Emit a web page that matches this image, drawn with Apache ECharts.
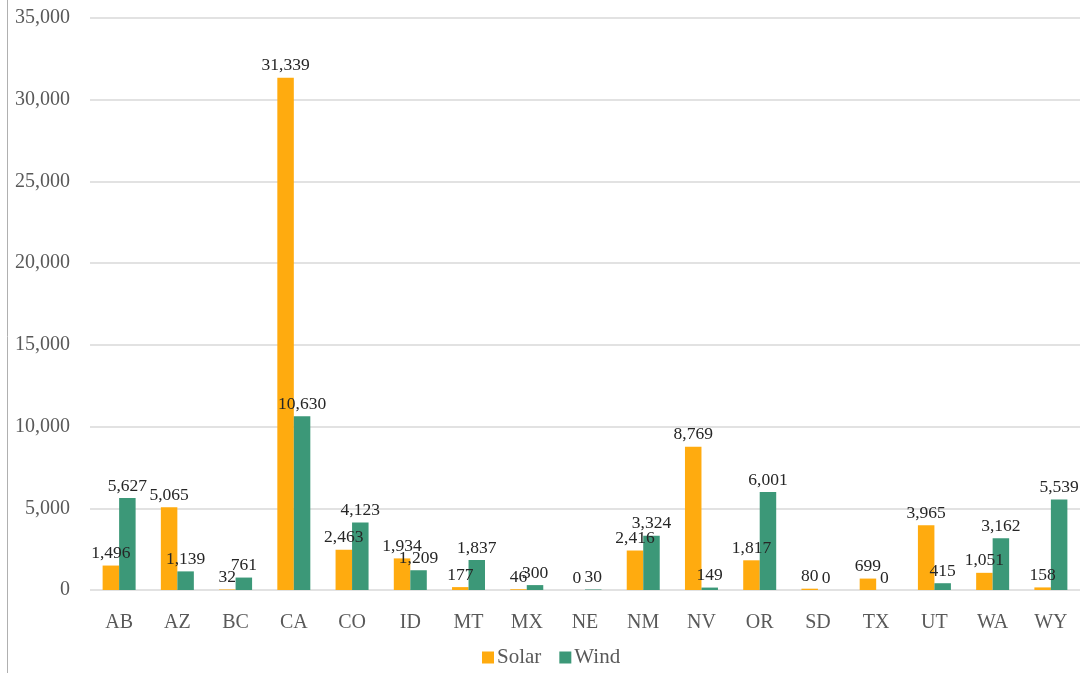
<!DOCTYPE html>
<html>
<head>
<meta charset="utf-8">
<script src="https://cdn.jsdelivr.net/npm/echarts@6/dist/echarts.min.js"></script>
<style>
  html, body { margin: 0; padding: 0; background: #fff; }
  #chart { width: 1084px; height: 673px; }
</style>
</head>
<body>
<div id="chart"></div>
<script>
const categories = ["AB", "AZ", "BC", "CA", "CO", "ID", "MT", "MX", "NE", "NM", "NV", "OR", "SD", "TX", "UT", "WA", "WY"];
const solar = [1496, 5065, 32, 31339, 2463, 1934, 177, 46, 0, 2416, 8769, 1817, 80, 699, 3965, 1051, 158];
const wind = [5627, 1139, 761, 10630, 4123, 1209, 1837, 300, 30, 3324, 149, 6001, 0, 0, 415, 3162, 5539];
const yMax = 35000;
const yStep = 5000;

const font = "'Liberation Serif', 'DejaVu Serif', serif";
const fmt = (v) => v.toLocaleString("en-US");

const chart = echarts.init(document.getElementById("chart"));
const barLabel = {
  show: true,
  position: "top",
  distance: 3,
  color: "#262626",
  fontFamily: font,
  fontSize: 17.5,
  formatter: (p) => fmt(p.value),
};

chart.setOption({
  animation: false,
  textStyle: { fontFamily: font },
  graphic: [
    {
      type: "line",
      shape: { x1: 7.5, y1: 0, x2: 7.5, y2: 673 },
      style: { stroke: "#b0b0b0", lineWidth: 1 },
    },
  ],
  grid: { left: 90, right: 4, top: 18, bottom: 83, containLabel: false },
  legend: {
    bottom: 0,
    left: 477,
    itemWidth: 12,
    itemHeight: 12,
    itemGap: 18,
    icon: "rect",
    textStyle: { color: "#595959", fontSize: 21, fontFamily: font, padding: [0, 0, 0, -2] },
    data: ["Solar", "Wind"],
  },
  xAxis: {
    type: "category",
    data: categories,
    axisLine: { show: false },
    axisTick: { show: false },
    axisLabel: { color: "#595959", fontSize: 20, fontFamily: font, margin: 23 },
  },
  yAxis: {
    type: "value",
    min: 0,
    max: yMax,
    interval: yStep,
    axisLine: { show: false },
    axisTick: { show: false },
    splitLine: { lineStyle: { color: "#d9d9d9", width: 1.5 } },
    axisLabel: { color: "#595959", fontSize: 20, fontFamily: font, margin: 20, formatter: (v) => fmt(v) },
  },
  series: [
    {
      name: "Solar",
      type: "bar",
      data: solar,
      itemStyle: { color: "#FFAB0F" },
      barWidth: 16.5,
      barGap: "0%",
      label: barLabel,
    },
    {
      name: "Wind",
      type: "bar",
      data: wind,
      itemStyle: { color: "#3C9878" },
      barWidth: 16.5,
      label: barLabel,
    },
  ],
});
</script>
</body>
</html>
